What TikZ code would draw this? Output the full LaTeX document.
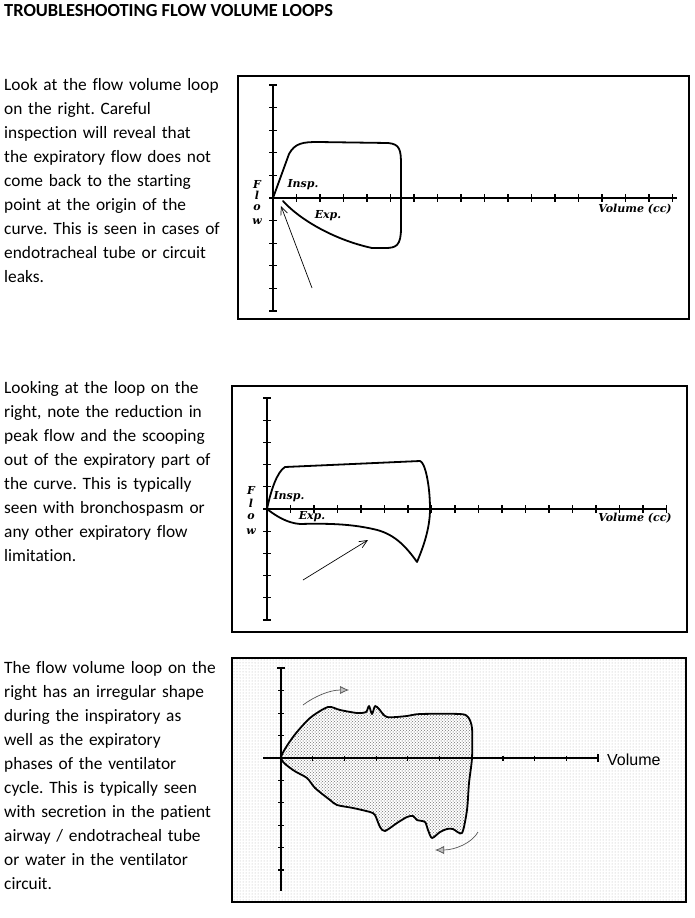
\documentclass[tikz,border=0pt]{standalone}
\usepackage{fontspec}
\setmainfont{Carlito}[Ligatures=NoCommon]
\newfontfamily\plotfont{DejaVu Serif}
\newfontfamily\axisfont{Liberation Sans}
\usetikzlibrary{arrows.meta, patterns}
\frenchspacing
\tikzset{
    Frame/.style = {draw=black, line width=1.2pt},
    Axis/.style = {line width=2.2pt},
    Tick/.style = {line width=1.2pt},
    Loop/.style = {line width=1.8pt, line join=round, line cap=round},
    Pointer/.style = {
        line width=0.7pt,
        -{Straight Barb[length=8pt, width=7pt]}
    },
    Swirl/.style = {
        line width=0.7pt, draw=swirlGray,
        -{Latex[length=9pt, width=8pt, fill=stipple]}
    },
    Body/.style = {
        anchor=base west, inner sep=0pt, text width=232pt, align=left,
        font=\fontsize{17.35}{24}\selectfont
    },
    Label/.style = {
        inner sep=0pt,
        font=\plotfont\bfseries\itshape\fontsize{11}{11}\selectfont
    }
}
\definecolor{stipple}{HTML}{bfbfbf}
\definecolor{swirlGray}{HTML}{555555}

\begin{document}
\begin{tikzpicture}[x=1pt, y=-1pt]
    \useasboundingbox (0,0) rectangle (694,918);
    \node[anchor=base west, inner sep=0pt, font=\bfseries\fontsize{18.4}{18.4}\selectfont] (title) at (4,16.5) {TROUBLESHOOTING FLOW VOLUME LOOPS};

    % leak
    \node[Body] (text1) at (4,90.5) {Look at the flow volume loop\\on the right. Careful\\inspection will reveal that\\the expiratory flow does not\\come back to the starting\\point at the origin of the\\curve. This is seen in cases of\\endotracheal tube or circuit\\leaks.};
    \draw[Frame] (238,76) rectangle (689,319);
    \draw[Axis] (273,85) -- (273,311);
    \draw[Axis] (273,198) -- (677,198);
    \foreach \i in {1,...,17} \draw[Tick] (273+23.5*\i,194) -- ++(0,8);
    \foreach \j in {0,...,10} \draw[Tick] (269,85+22.6*\j) -- ++(8,0);
    \draw[Loop] (273,198) -- (289,154) .. controls (295,143) and (303,142) .. (318,142) -- (388,143) .. controls (400,144) and (401,150) .. (401,165) -- (401,228) .. controls (401,246) and (396,248) .. (385,248) -- (372,248) .. controls (335,240) and (300,220) .. (283,201);
    \foreach \c/\y [count=\k] in {F/184, l/195, o/208, w/222} \node[Label] (flowA\k) at (257,\y) {\c};
    \node[Label] (inspA) at (303,185) {Insp.};
    \node[Label] (expA) at (328,216) {Exp.};
    \node[Label] (volA) at (635,209) {Volume (cc)};
    \coordinate (leakTail) at (312,288);
    \coordinate (leakTip) at (281,206);
    \draw[Pointer] (leakTail) -- (leakTip);

    % bronchospasm
    \node[Body] (text2) at (4,393.3) {Looking at the loop on the\\right, note the reduction in\\peak flow and the scooping\\out of the expiratory part of\\the curve. This is typically\\seen with bronchospasm or\\any other expiratory flow\\limitation.};
    \draw[Frame] (232,386) rectangle (687,632);
    \draw[Axis] (267,398) -- (267,620);
    \draw[Axis] (267,509) -- (667,509);
    \foreach \i in {1,...,17} \draw[Tick] (267+23.5*\i,505) -- ++(0,8);
    \foreach \j in {0,...,10} \draw[Tick] (263,398+22.2*\j) -- ++(8,0);
    \draw[Loop] (267,509) .. controls (271,490) and (277,472) .. (285,467) -- (420,461) .. controls (425,462) and (430,485) .. (430,509) .. controls (430,530) and (422,550) .. (417,562) .. controls (405,545) and (393,533) .. (373,529) .. controls (355,525) and (335,523) .. (300,524) .. controls (287,523) and (276,516) .. (267,509);
    \foreach \c/\y [count=\k] in {F/490, l/503, o/517, w/532} \node[Label] (flowB\k) at (251,\y) {\c};
    \node[Label] (inspB) at (289,497) {Insp.};
    \node[Label] (expB) at (312,517) {Exp.};
    \node[Label] (volB) at (635,518) {Volume (cc)};
    \coordinate (scoopTail) at (303,580);
    \coordinate (scoopTip) at (368,540);
    \draw[Pointer] (scoopTail) -- (scoopTip);

    % secretions
    \node[Body] (text3) at (4,673.3) {The flow volume loop on the\\right has an irregular shape\\during the inspiratory as\\well as the expiratory\\phases of the ventilator\\cycle. This is typically seen\\with secretion in the patient\\airway / endotracheal tube\\or water in the ventilator\\circuit.};
    \fill[pattern=dots, pattern color=black!30] (233,659) rectangle (685,901);
    \draw[Loop, pattern=crosshatch dots, pattern color=black!55] plot[smooth cycle, tension=0.45] coordinates {(281,758) (293,737) (310,718) (328,707) (340,710) (357,713) (366,712) (369,706) (372,714) (375,706) (379,709) (387,717) (407,716) (420,714) (460,714) (468,717) (472,728) (472,758) (469,783) (467,810) (462,833) (453,829) (447,829) (440,832) (432,838) (428,830) (425,822) (417,820) (413,816) (407,817) (397,823) (385,831) (380,827) (375,815) (370,812) (353,808) (337,805) (330,800) (315,788) (307,778) (293,770)};
    \draw[Axis] (281,668) -- (281,891);
    \draw[Axis] (263,758) -- (598,758);
    \draw[Tick] (277,668) -- ++(8,0);
    \draw[Tick] (598,754) -- ++(0,8);
    \foreach \i in {1,...,9} \draw[Tick] (281+31.7*\i,755.5) -- ++(0,5);
    \foreach \j in {-3,...,-1,1,2,...,5} \draw[Tick] (278,758+22.4*\j) -- ++(6,0);
    \node[anchor=west, inner sep=0pt, font=\axisfont\fontsize{16}{16}\selectfont] (volC) at (607,760) {Volume};
    \coordinate (inspFrom) at (303,705);
    \coordinate (inspTo) at (349,690);
    \draw[Swirl] (inspFrom) .. controls (315,696) and (330,690) .. (inspTo);
    \coordinate (expFrom) at (478,832);
    \coordinate (expTo) at (435,850);
    \draw[Swirl] (expFrom) .. controls (472,843) and (455,850) .. (expTo);
    \draw[Frame] (232,658) rectangle (686,902);
\end{tikzpicture}
\end{document}
